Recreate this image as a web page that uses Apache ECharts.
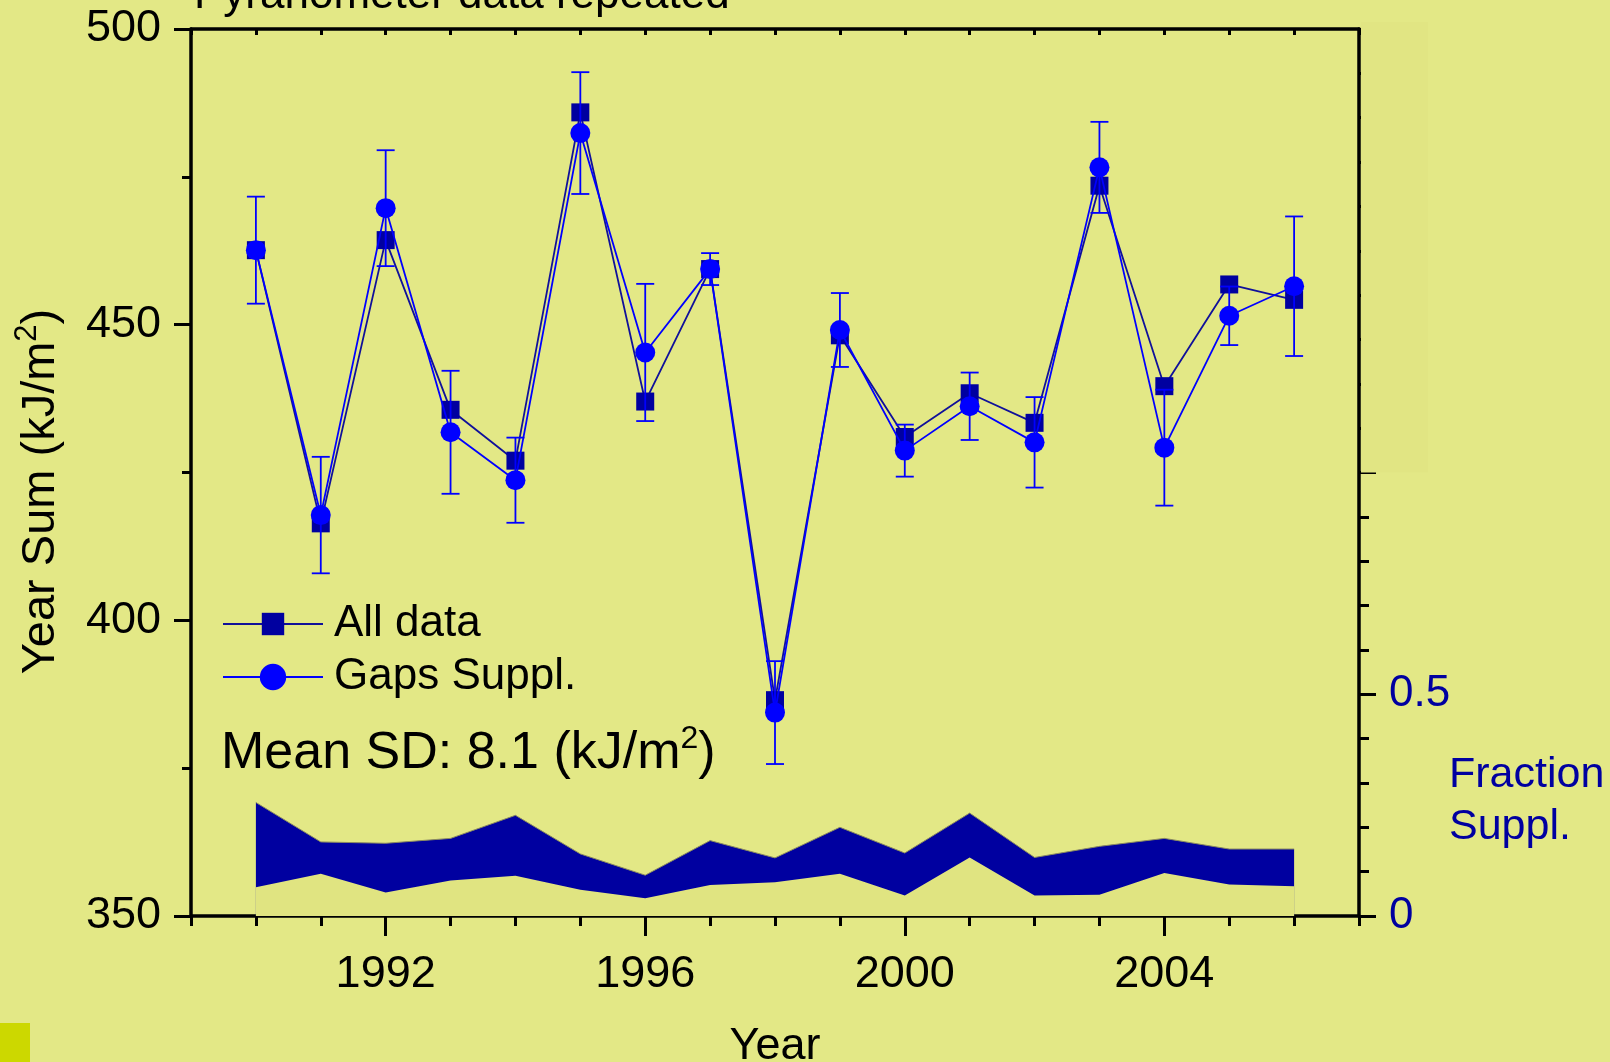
<!DOCTYPE html>
<html>
<head>
<meta charset="utf-8">
<script src="https://cdn.jsdelivr.net/npm/echarts@6/dist/echarts.min.js"></script>
<style>
  html, body { margin: 0; padding: 0; background: #e3e886; }
  #chart { width: 1610px; height: 1062px; }
</style>
</head>
<body>
<div id="chart"></div>
<script>
// data
const years = [1990, 1991, 1992, 1993, 1994, 1995, 1996, 1997, 1998, 1999, 2000, 2001, 2002, 2003, 2004, 2005, 2006];
const allData = [462.6, 416.4, 464.3, 435.6, 427.0, 485.9, 437.0, 459.4, 386.5, 448.2, 431.0, 438.4, 433.4, 473.5, 439.6, 456.8, 454.2];
const gapsSuppl = [462.6, 417.8, 469.7, 431.8, 423.7, 482.4, 445.3, 459.4, 384.4, 449.1, 428.7, 436.2, 430.1, 476.6, 429.2, 451.5, 456.5];
const gapsSd = [9.05, 9.85, 9.8, 10.4, 7.2, 10.3, 11.6, 2.7, 8.7, 6.25, 4.4, 5.7, 7.65, 7.7, 9.8, 4.95, 11.8];
const fracHigh = [0.256, 0.167, 0.164, 0.175, 0.227, 0.140, 0.092, 0.170, 0.131, 0.200, 0.142, 0.232, 0.132, 0.157, 0.175, 0.151, 0.151];
const fracLow = [0.065, 0.095, 0.053, 0.080, 0.091, 0.059, 0.040, 0.070, 0.076, 0.095, 0.046, 0.132, 0.046, 0.048, 0.097, 0.071, 0.067];
const majorYears = [1992, 1996, 2000, 2004];
const fracLabels = [0, 0.5];

const FONT = 'Liberation Sans, Arial, sans-serif';
const BG = '#e3e886';
const NAVY = '#0000a0';
const BLUE = '#0000ff';

const chart = echarts.init(document.getElementById('chart'));

const pairs = arr => years.map((y, i) => [y, arr[i]]);
const errData = years.map((y, i) => [y, gapsSuppl[i] - gapsSd[i], gapsSuppl[i] + gapsSd[i]]);

const blackLine = { color: '#000', width: 3.5 };
const tickLine = { color: '#000', width: 3 };

const option = {
  animation: false,
  backgroundColor: BG,
  grid: { left: 191, right: 251, top: 29, bottom: 146, outerBoundsMode: 'none', containLabel: false },
  legend: [
    {
      data: ['All data'], left: 222, top: 602, padding: 0,
      itemWidth: 100, itemHeight: 28,
      textStyle: { fontFamily: FONT, fontSize: 44, color: '#000', padding: [0, 0, 0, 6] }
    },
    {
      data: ['Gaps Suppl.'], left: 222, top: 655, padding: 0,
      itemWidth: 100, itemHeight: 33,
      textStyle: { fontFamily: FONT, fontSize: 44, color: '#000', padding: [0, 0, 0, 6] }
    }
  ],
  xAxis: [
    {
      type: 'value', min: 1989, max: 2007, interval: 1, position: 'bottom',
      axisLine: { lineStyle: blackLine },
      axisTick: { length: 10, lineStyle: tickLine },
      axisLabel: { show: false },
      splitLine: { show: false }
    },
    {
      type: 'value', min: 1989, max: 2007, interval: 1, position: 'bottom',
      axisLine: { show: false },
      axisTick: { customValues: majorYears, length: 20, lineStyle: tickLine },
      axisLabel: {
        customValues: majorYears, fontFamily: FONT, fontSize: 45, color: '#000', margin: 36,
        formatter: v => String(v)
      },
      splitLine: { show: false },
      name: 'Year', nameLocation: 'middle', nameGap: 108,
      nameTextStyle: { fontFamily: FONT, fontSize: 45, color: '#000' }
    },
    {
      type: 'value', min: 1989, max: 2007, interval: 1, position: 'top',
      axisLine: { lineStyle: blackLine },
      axisTick: { inside: true, length: 6, lineStyle: tickLine },
      axisLabel: { show: false },
      splitLine: { show: false }
    }
  ],
  yAxis: [
    {
      type: 'value', min: 350, max: 500, interval: 50, position: 'left',
      axisLine: { show: true, lineStyle: blackLine },
      axisTick: { show: true, length: 17, lineStyle: tickLine },
      minorTick: { show: true, splitNumber: 2, length: 9, lineStyle: tickLine },
      axisLabel: { fontFamily: FONT, fontSize: 45, color: '#000', margin: 30 },
      splitLine: { show: false },
      name: '{t|Year Sum (kJ/m}{s|2}{t|)}', nameLocation: 'middle', nameGap: 121, nameRotate: 90,
      nameTextStyle: {
        padding: [0, 38, 0, 0],
        rich: {
          t: { fontFamily: FONT, fontSize: 47, color: '#000', lineHeight: 58 },
          s: { fontFamily: FONT, fontSize: 31, color: '#000', lineHeight: 30, verticalAlign: 'top' }
        }
      }
    },
    {
      type: 'value', min: 0, max: 2, interval: 0.5, position: 'right',
      axisLine: { show: true, lineStyle: blackLine },
      axisTick: { show: true, length: 17, lineStyle: tickLine },
      minorTick: { show: true, splitNumber: 5, length: 10, lineStyle: tickLine },
      axisLabel: {
        fontFamily: FONT, fontSize: 44, color: NAVY, margin: 30,
        formatter: v => (fracLabels.indexOf(v) >= 0 ? String(v) : '')
      },
      splitLine: { show: false }
    }
  ],
  series: [
    {
      name: 'Fraction high', type: 'line', xAxisIndex: 0, yAxisIndex: 1,
      data: pairs(fracHigh), symbol: 'none', z: 1,
      lineStyle: { color: '#8a8a60', width: 1 },
      areaStyle: { color: NAVY, opacity: 1 }
    },
    {
      name: 'Fraction low', type: 'line', xAxisIndex: 0, yAxisIndex: 1,
      data: pairs(fracLow), symbol: 'none', z: 1,
      lineStyle: { width: 0 },
      areaStyle: { color: '#e0e481', opacity: 1 }
    },
    {
      name: 'All data', type: 'line', xAxisIndex: 0, yAxisIndex: 0,
      data: pairs(allData), symbol: 'rect', symbolSize: 18, z: 3,
      itemStyle: { color: NAVY },
      lineStyle: { color: '#10109a', width: 1.8 }
    },
    {
      name: 'Gaps SD', type: 'custom', xAxisIndex: 0, yAxisIndex: 0, z: 4,
      data: errData,
      encode: { x: 0, y: [1, 2] },
      renderItem: (params, api) => {
        const top = api.coord([api.value(0), api.value(2)]);
        const bot = api.coord([api.value(0), api.value(1)]);
        const half = 9;
        const style = { stroke: BLUE, lineWidth: 1.8 };
        return {
          type: 'group',
          children: [
            { type: 'line', shape: { x1: top[0], y1: top[1], x2: bot[0], y2: bot[1] }, style },
            { type: 'line', shape: { x1: top[0] - half, y1: top[1], x2: top[0] + half, y2: top[1] }, style },
            { type: 'line', shape: { x1: bot[0] - half, y1: bot[1], x2: bot[0] + half, y2: bot[1] }, style }
          ]
        };
      }
    },
    {
      name: 'Gaps Suppl.', type: 'line', xAxisIndex: 0, yAxisIndex: 0,
      data: pairs(gapsSuppl), symbol: 'circle', symbolSize: 20, z: 5,
      itemStyle: { color: BLUE },
      lineStyle: { color: BLUE, width: 1.8 }
    }
  ]
};

chart.setOption(option);

// rectangle that hides the upper part of the right axis, plus free texts
const yOne = chart.convertToPixel({ yAxisIndex: 1 }, 1);
const xRight = chart.convertToPixel({ xAxisIndex: 0 }, 2007);

chart.setOption({
  graphic: [
    {
      type: 'rect', z: 100,
      shape: { x: xRight + 2, y: 22, width: 67, height: yOne - 22 },
      style: { fill: '#e1e583' }
    },
    {
      type: 'text', left: 194, top: -26, z: 100,
      style: { text: 'Pyranometer data repeated', font: '44px ' + FONT, fill: '#000' }
    },
    {
      type: 'text', left: 221, top: 723, z: 100,
      style: {
        text: '{t|Mean SD: 8.1 (kJ/m}{s|2}{t|)}',
        rich: {
          t: { fontFamily: FONT, fontSize: 52, fill: '#000', lineHeight: 62 },
          s: { fontFamily: FONT, fontSize: 32, fill: '#000', lineHeight: 30, verticalAlign: 'top' }
        }
      }
    },
    {
      type: 'text', left: 1449, top: 749, z: 100,
      style: { text: 'Fraction\nSuppl.', font: '43px ' + FONT, fill: NAVY, lineHeight: 52 }
    },
    {
      type: 'rect', z: 100,
      shape: { x: 0, y: 1023, width: 30, height: 39 },
      style: { fill: '#ccd800' }
    }
  ]
});
</script>
</body>
</html>
